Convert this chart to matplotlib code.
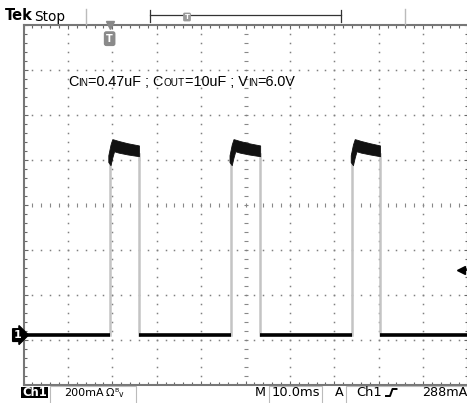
import numpy as np
import matplotlib
matplotlib.use('Agg')
import matplotlib.pyplot as plt
from matplotlib.ticker import MultipleLocator
from matplotlib.patches import Rectangle

# scope settings
time_per_div = 10.0    # ms / div
amps_per_div = 200.0   # mA / div
trig_level = 288       # mA
trig_time = 19.4       # ms
gnd_div = 1.10         # ground marker, divisions above bottom

# pulse edges (ms)
rise_ms = [19.4, 46.7, 74.0]
fall_ms = [26.0, 53.3, 80.3]

# noisy top of each pulse: offset from rising edge (ms), upper / lower edge (mA)
top_dt = [-0.3, 0.2, 0.6, 1.0, 2.0, 4.0, 6.6]
top_hi = [800, 848, 872, 870, 864, 854, 844]
top_lo = [770, 756, 790, 818, 812, 804, 796]
edge_top = 805  # mA, where the faint edges reach

W, H = 467, 403
fig = plt.figure(figsize=(W / 100, H / 100), dpi=100)
fig.patch.set_facecolor('white')

x0, x1, ytop, ybot = 23.5, 467.5, 25.0, 384.5
ax = fig.add_axes([x0 / W, (H - ybot) / H, (x1 - x0) / W, (ybot - ytop) / H])
ymin = -gnd_div * amps_per_div
ymax = (8 - gnd_div) * amps_per_div
ax.set_xlim(0, 10 * time_per_div)
ax.set_ylim(ymin, ymax)

# graticule
ax.xaxis.set_major_locator(MultipleLocator(time_per_div))
ax.xaxis.set_minor_locator(MultipleLocator(time_per_div / 5))
ax.set_yticks(np.arange(ymin, ymax + 1, amps_per_div))
ax.set_yticks(np.arange(ymin, ymax + 1, amps_per_div / 5), minor=True)
ax.tick_params(which='both', direction='in', top=True, right=True,
               labelbottom=False, labelleft=False, color='#666666', width=0.8)
ax.tick_params(which='major', length=3)
ax.tick_params(which='minor', length=2)
for s in ax.spines.values():
    s.set_color('#777777')
    s.set_linewidth(1.5)

ys_dots = np.arange(ymin, ymax, amps_per_div / 5)[1:]
xs_dots = np.arange(0, 10 * time_per_div, time_per_div / 5)[1:]
for k in range(1, 10):
    x = k * time_per_div
    if k == 5:
        ax.plot([x] * len(ys_dots), ys_dots, ls='none', marker='_', ms=3.5, mew=0.8, color='#888888')
    else:
        ax.plot([x] * len(ys_dots), ys_dots, ls='none', marker='s', ms=1.1, mew=0, color='#808080')
for k in range(1, 8):
    y = ymin + k * amps_per_div
    if k == 4:
        ax.plot(xs_dots, [y] * len(xs_dots), ls='none', marker='|', ms=3.5, mew=0.8, color='#888888')
    else:
        ax.plot(xs_dots, [y] * len(xs_dots), ls='none', marker='s', ms=1.1, mew=0, color='#808080')

# trace: baseline
starts = [0] + fall_ms
ends = rise_ms + [10 * time_per_div]
for a, b in zip(starts, ends):
    ax.plot([a, b], [0, 0], color='black', lw=2.6, solid_capstyle='butt', zorder=3)

# trace: edges and pulse tops
for r, f in zip(rise_ms, fall_ms):
    ax.plot([r, r], [0, edge_top], color='#c4c4c4', lw=1.8, zorder=2)
    ax.plot([f, f], [0, edge_top], color='#c4c4c4', lw=1.8, zorder=2)
    xs = [r + d for d in top_dt[:-1]] + [f]
    ax.fill_between(xs, top_lo, top_hi, color='#111111', lw=0.6, edgecolor='#111111', zorder=3)

# trigger level arrow (right edge)
ax.plot([98.6, 100], [trig_level, trig_level], color='black', lw=1.2, zorder=4, clip_on=False)
ax.plot([98.6], [trig_level], marker='<', ms=6, color='black', zorder=4, clip_on=False)

# trigger position marker (top)
ax.plot([trig_time], [1.0], marker='v', ms=6, color='#888888', transform=ax.get_xaxis_transform(),
        clip_on=False, zorder=5)
ax.text(trig_time, 0.962, 'T', transform=ax.get_xaxis_transform(), ha='center', va='center',
        color='white', fontsize=7, fontweight='bold', zorder=5,
        bbox=dict(boxstyle='round,pad=0.25', fc='#8a8a8a', ec='none'))

# ground marker "1"
ax.text(-0.004, 0, '1', transform=ax.get_yaxis_transform(), ha='right', va='center',
        color='white', fontsize=8, fontweight='bold', clip_on=False,
        bbox=dict(boxstyle='rarrow,pad=0.12', fc='black', ec='black'))

# overlay in pixel coords for the readouts
ov = fig.add_axes([0, 0, 1, 1], zorder=10)
ov.set_xlim(0, W)
ov.set_ylim(H, 0)
ov.axis('off')
rend = fig.canvas.get_renderer()


def run_text(x, y, parts, family, color='black'):
    for s, size in parts:
        t = ov.text(x, y, s, fontsize=size, va='baseline', ha='left', family=family, color=color)
        x += t.get_window_extent(rend).width


big, small = 10.4, 7.2
run_text(68, 86.5, [('C', big), ('IN', small), ('=0.47uF ; C', big), ('OUT', small),
                    ('=10uF ; V', big), ('IN', small), ('=6.0V', big)], 'Liberation Sans')

# top status bar
ov.text(5, 20.5, 'Tek', fontsize=10.5, fontweight='bold', va='baseline', family='DejaVu Sans')
ov.text(34, 20.5, 'Stop', fontsize=9.8, va='baseline', family='DejaVu Sans')
for xx in (86, 405):
    ov.plot([xx, xx], [9, 24], color='#bbbbbb', lw=1)
ov.plot([150, 341], [15, 15], color='#333333', lw=0.9)
ov.plot([150, 150], [10, 22], color='#333333', lw=0.9)
ov.plot([341, 341], [10, 22], color='#333333', lw=0.9)
ov.text(187, 17, 'T', ha='center', va='center', color='white', fontsize=5, fontweight='bold',
        bbox=dict(boxstyle='round,pad=0.2', fc='#9a9a9a', ec='none'))

# bottom readouts
ov.add_patch(Rectangle((20.7, 386.7), 27.6, 10.8, fc='black', ec='none'))
ov.text(34.5, 396.3, 'Ch1', ha='center', va='baseline', color='white', fontsize=8.4,
        fontweight='bold', family='DejaVu Sans')
ov.plot([49.5, 49.5, 135.5, 135.5], [403, 386, 386, 403], color='#bbbbbb', lw=0.8)
ov.text(64.5, 396.3, '200mA', fontsize=8.0, va='baseline', family='DejaVu Sans')
ov.text(105.5, 396.3, 'Ω', fontsize=8.0, va='baseline', family='DejaVu Sans')
ov.text(114.5, 391.5, 'B', fontsize=4.5, va='baseline', family='DejaVu Sans')
ov.text(118.5, 397, 'v', fontsize=5.5, va='baseline', family='DejaVu Sans')

ov.text(255, 396.3, 'M', fontsize=9.2, va='baseline', family='DejaVu Sans')
ov.plot([269, 269, 321.7, 321.7], [403, 385.5, 385.5, 403], color='#bbbbbb', lw=0.8)
ov.text(271.7, 396.3, '10.0ms', fontsize=9.4, va='baseline', family='DejaVu Sans')
ov.text(335, 396.3, 'A', fontsize=9.2, va='baseline', family='DejaVu Sans')
ov.plot([345.7, 345.7, W], [403, 385.5, 385.5], color='#bbbbbb', lw=0.8)
ov.text(356, 396.3, 'Ch1', fontsize=9.4, va='baseline', family='DejaVu Sans')
ov.plot([386, 390, 392.5, 396.5], [396, 396, 389, 389], color='black', lw=1.4)
ov.text(421.7, 396.3, '288mA', fontsize=9.2, va='baseline', family='DejaVu Sans')

fig.savefig('out.png', dpi=100, facecolor='white')
